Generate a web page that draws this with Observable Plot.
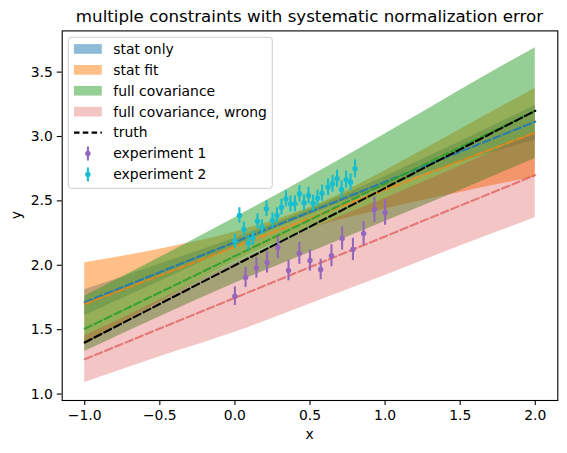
<!DOCTYPE html>
<html>
<head>
<meta charset="utf-8">
<script src="https://cdn.jsdelivr.net/npm/d3@7"></script>
<script src="https://cdn.jsdelivr.net/npm/@observablehq/plot@0.6"></script>
<style>
  body { margin: 0; background: #fff; }
  #chart svg { display: block; }
</style>
</head>
<body>
<div id="chart"></div>
<script>
// Straight-line fits of two experiments sharing a normalization uncertainty.
const bandX = [-1, -0.5, 0, 0.5, 1, 1.5, 2];

const statOnlyLine = [1.713, 1.946, 2.18, 2.414, 2.648, 2.882, 3.115];
const statOnlyLo   = [1.61, 1.875, 2.145, 2.392, 2.605, 2.80, 2.97];
const statOnlyHi   = [1.81, 2.01, 2.21, 2.435, 2.69, 2.96, 3.24];

const statFitLine = [1.70, 1.92, 2.143, 2.365, 2.586, 2.81, 3.03];
const statFitLo   = [1.38, 1.715, 2.027, 2.282, 2.437, 2.566, 2.685];
const statFitHi   = [2.02, 2.125, 2.259, 2.448, 2.735, 3.054, 3.375];

const fullCovLine = [1.507, 1.789, 2.071, 2.353, 2.635, 2.917, 3.199];
const fullCovLo   = [1.33, 1.60, 1.86, 2.10, 2.34, 2.58, 2.83];
const fullCovHi   = [1.76, 2.06, 2.37, 2.69, 3.02, 3.36, 3.69];

const wrongLine = [1.27, 1.509, 1.747, 1.986, 2.224, 2.463, 2.70];
const wrongLo   = [1.09, 1.29, 1.48, 1.70, 1.92, 2.15, 2.37];
const wrongHi   = [1.45, 1.73, 2.02, 2.28, 2.52, 2.77, 3.03];

const truthX = [-1, 2];
const truthY = [1.4, 3.2];

// experiment 1
const exp1X = [0, 0.071, 0.143, 0.214, 0.286, 0.357, 0.429, 0.5, 0.571, 0.643, 0.714, 0.786, 0.857, 0.929, 1.0];
const exp1Y = [1.76, 1.905, 1.98, 2.022, 2.138, 1.96, 2.092, 2.037, 1.967, 2.074, 2.208, 2.123, 2.247, 2.431, 2.41];
const exp1Err = [0.072, 0.078, 0.080, 0.082, 0.086, 0.080, 0.085, 0.083, 0.080, 0.085, 0.090, 0.087, 0.092, 0.100, 0.100];

// experiment 2
const exp2X = [0.00, 0.03, 0.06, 0.09, 0.12, 0.15, 0.18, 0.21, 0.25, 0.28, 0.31, 0.34, 0.37, 0.40,
               0.43, 0.46, 0.49, 0.52, 0.55, 0.58, 0.62, 0.65, 0.68, 0.71, 0.74, 0.77, 0.80];
const exp2Y = [2.187, 2.387, 2.278, 2.172, 2.21, 2.342, 2.296, 2.439, 2.348, 2.387, 2.451, 2.516, 2.477, 2.477,
               2.555, 2.485, 2.542, 2.482, 2.521, 2.56, 2.606, 2.633, 2.672, 2.589, 2.664, 2.645, 2.749];
const exp2Err = [0.055, 0.06, 0.057, 0.054, 0.055, 0.058, 0.057, 0.061, 0.059, 0.06, 0.061, 0.063, 0.062, 0.062,
                 0.064, 0.062, 0.064, 0.062, 0.063, 0.064, 0.065, 0.066, 0.067, 0.065, 0.067, 0.066, 0.069];

const xTicks = [-1, -0.5, 0, 0.5, 1, 1.5, 2];
const yTicks = [1.0, 1.5, 2.0, 2.5, 3.0, 3.5];

(() => {
  const C = {
    blue: "#1f77b4", orange: "#ff7f0e", green: "#2ca02c", red: "#d62728",
    purple: "#9467bd", cyan: "#17becf"
  };

  const band = (lo, hi, mid) => bandX.map((x, i) => ({x, lo: lo[i], hi: hi[i], mid: mid[i]}));
  const statOnly = band(statOnlyLo, statOnlyHi, statOnlyLine);
  const statFit = band(statFitLo, statFitHi, statFitLine);
  const fullCov = band(fullCovLo, fullCovHi, fullCovLine);
  const wrong = band(wrongLo, wrongHi, wrongLine);
  const truth = truthX.map((x, i) => ({x, y: truthY[i]}));
  const exp1 = exp1X.map((x, i) => ({x, y: exp1Y[i], e: exp1Err[i]}));
  const exp2 = exp2X.map((x, i) => ({x, y: exp2Y[i], e: exp2Err[i]}));

  const fmt = d => d.toFixed(1).replace("-", "\u2212");
  const dash = "7.7,3.3";
  const LW = 2.08;
  const FONT = "DejaVu Sans, sans-serif";

  const fills = [
    [statOnly, C.blue, 0.5],
    [statFit, C.orange, 0.5],
    [fullCov, C.green, 0.5],
    [wrong, C.red, 0.27]
  ];
  const centres = [
    [statOnly, C.blue, 0.9],
    [statFit, C.orange, 0.7],
    [fullCov, C.green, 0.9],
    [wrong, C.red, 0.5]
  ];

  const chart = Plot.plot({
    width: 567,
    height: 453,
    marginLeft: 61.7,
    marginRight: 9.7,
    marginTop: 30.4,
    marginBottom: 53,
    style: {fontFamily: FONT, fontSize: "13.9px", color: "black", background: "white"},
    x: {domain: [-1.15, 2.15], label: null},
    y: {domain: [0.95, 3.82], label: null},
    marks: [
      ...fills.map(([d, c, o]) =>
        Plot.areaY(d, {x: "x", y1: "lo", y2: "hi", fill: c, fillOpacity: o, curve: "monotone-x"})),
      ...centres.map(([d, c, o]) =>
        Plot.line(d, {x: "x", y: "mid", stroke: c, strokeOpacity: o, strokeWidth: LW,
                      strokeDasharray: dash, curve: "monotone-x"})),
      Plot.line(truth, {x: "x", y: "y", stroke: "black", strokeWidth: LW, strokeDasharray: dash}),
      Plot.ruleX(exp1, {x: "x", y1: d => d.y - d.e, y2: d => d.y + d.e, stroke: C.purple, strokeWidth: LW}),
      Plot.dot(exp1, {x: "x", y: "y", r: 2.7, fill: C.purple, stroke: null}),
      Plot.ruleX(exp2, {x: "x", y1: d => d.y - d.e, y2: d => d.y + d.e, stroke: C.cyan, strokeWidth: LW}),
      Plot.dot(exp2, {x: "x", y: "y", r: 2.7, fill: C.cyan, stroke: null}),
      Plot.frame({stroke: "black", strokeWidth: 1.1}),
      Plot.axisX(xTicks, {tickSize: 4.9, tickPadding: 4.5, tickFormat: fmt, strokeWidth: 1.1}),
      Plot.axisY(yTicks, {tickSize: 4.9, tickPadding: 4.5, tickFormat: fmt, strokeWidth: 1.1})
    ]
  });

  document.getElementById("chart").append(chart);

  // Title, axis labels and legend
  const svg = d3.select(chart);
  const x0 = 61.7, x1 = 557.3, y0 = 30.4, y1 = 400;

  svg.append("text")
    .attr("x", (x0 + x1) / 2).attr("y", 22)
    .attr("text-anchor", "middle")
    .style("font-family", FONT).style("font-size", "16.67px")
    .text("multiple constraints with systematic normalization error");

  svg.append("text")
    .attr("x", (x0 + x1) / 2).attr("y", 439)
    .attr("text-anchor", "middle")
    .style("font-family", FONT).style("font-size", "13.9px")
    .text("x");

  svg.append("text")
    .attr("transform", `translate(21,${(y0 + y1) / 2}) rotate(-90)`)
    .attr("text-anchor", "middle")
    .style("font-family", FONT).style("font-size", "13.9px")
    .text("y");

  const legend = svg.append("g");
  legend.append("rect")
    .attr("x", 68.3).attr("y", 37.3).attr("width", 204).attr("height", 151)
    .attr("rx", 3).attr("fill", "white").attr("fill-opacity", 0.8)
    .attr("stroke", "#cccccc").attr("stroke-width", 1);

  const entries = [
    {label: "stat only", kind: "patch", color: C.blue, opacity: 0.5},
    {label: "stat fit", kind: "patch", color: C.orange, opacity: 0.5},
    {label: "full covariance", kind: "patch", color: C.green, opacity: 0.5},
    {label: "full covariance, wrong", kind: "patch", color: C.red, opacity: 0.27},
    {label: "truth", kind: "line", color: "black"},
    {label: "experiment 1", kind: "err", color: C.purple},
    {label: "experiment 2", kind: "err", color: C.cyan}
  ];
  entries.forEach((e, i) => {
    const cy = 49 + i * 20.9;
    if (e.kind === "patch") {
      legend.append("rect").attr("x", 74).attr("y", cy - 4.9).attr("width", 27.8).attr("height", 9.7)
        .attr("fill", e.color).attr("fill-opacity", e.opacity);
    } else if (e.kind === "line") {
      legend.append("line").attr("x1", 74).attr("x2", 101.8).attr("y1", cy).attr("y2", cy)
        .attr("stroke", e.color).attr("stroke-width", LW).attr("stroke-dasharray", "5.5,3.3");
    } else {
      legend.append("line").attr("x1", 87.9).attr("x2", 87.9).attr("y1", cy - 7).attr("y2", cy + 7)
        .attr("stroke", e.color).attr("stroke-width", LW);
      legend.append("circle").attr("cx", 87.9).attr("cy", cy).attr("r", 2.7).attr("fill", e.color);
    }
    legend.append("text").attr("x", 113.3).attr("y", cy).attr("dy", "0.35em")
      .attr("text-anchor", "start")
      .style("font-family", FONT).style("font-size", "13.9px")
      .text(e.label);
  });
})();
</script>
</body>
</html>
